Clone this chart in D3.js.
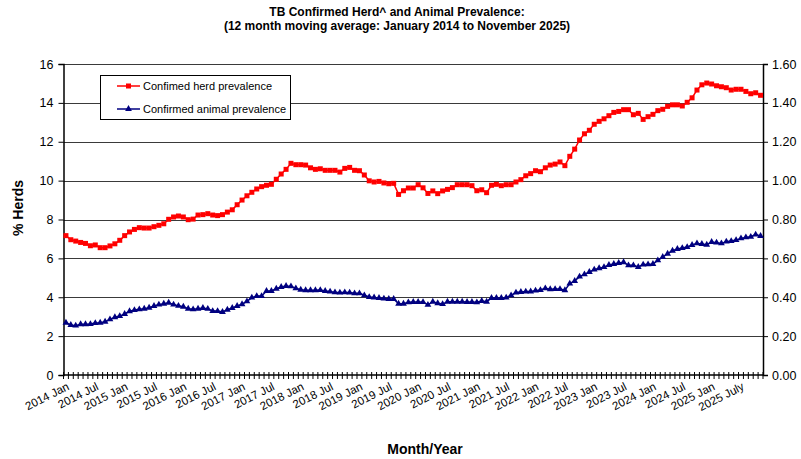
<!DOCTYPE html>
<html>
<head>
<meta charset="utf-8">
<script src="https://cdn.jsdelivr.net/npm/d3@7"></script>
<style>
  body { margin: 0; background: #fff; }
  svg { font-family: "Liberation Sans", Arial, sans-serif; }
</style>
</head>
<body>
<div id="chart"></div>
<script>
// first month of the series and number of months (Jan 2014 .. Nov 2025)
var startMonth = new Date(2014, 0, 1);
var monthCount = 143;

// confirmed herd prevalence (% herds, left axis)
var herdPrevalence = [
  7.17, 6.96, 6.89, 6.82, 6.77, 6.65, 6.69, 6.55, 6.55, 6.64, 6.75, 6.93,
  7.17, 7.36, 7.49, 7.58, 7.56, 7.56, 7.63, 7.70, 7.78, 8.01, 8.13, 8.18,
  8.13, 7.99, 8.02, 8.23, 8.25, 8.30, 8.23, 8.20, 8.25, 8.38, 8.50, 8.76,
  9.00, 9.22, 9.40, 9.57, 9.69, 9.76, 9.81, 10.07, 10.34, 10.58, 10.89, 10.82,
  10.82, 10.80, 10.66, 10.58, 10.61, 10.53, 10.53, 10.53, 10.44, 10.63, 10.68, 10.53,
  10.51, 10.29, 9.99, 9.93, 9.96, 9.88, 9.84, 9.86, 9.29, 9.48, 9.62, 9.62,
  9.79, 9.63, 9.34, 9.47, 9.33, 9.47, 9.55, 9.64, 9.79, 9.79, 9.79, 9.74,
  9.48, 9.53, 9.38, 9.76, 9.81, 9.74, 9.79, 9.79, 9.93, 10.05, 10.25, 10.36,
  10.51, 10.46, 10.66, 10.80, 10.85, 10.96, 10.77, 11.25, 11.62, 12.09, 12.41, 12.59,
  12.90, 13.05, 13.18, 13.34, 13.51, 13.56, 13.65, 13.65, 13.39, 13.46, 13.15, 13.29,
  13.41, 13.60, 13.67, 13.82, 13.90, 13.90, 13.84, 14.03, 14.26, 14.66, 14.93, 15.02,
  14.97, 14.88, 14.83, 14.78, 14.66, 14.70, 14.70, 14.59, 14.47, 14.52, 14.39
];

// confirmed animal prevalence (right axis)
var animalPrevalence = [
  0.269, 0.257, 0.254, 0.261, 0.261, 0.262, 0.267, 0.269, 0.274, 0.286, 0.297, 0.303,
  0.314, 0.328, 0.334, 0.338, 0.341, 0.346, 0.355, 0.362, 0.367, 0.372, 0.362, 0.356,
  0.351, 0.341, 0.338, 0.341, 0.345, 0.340, 0.329, 0.329, 0.324, 0.336, 0.345, 0.355,
  0.364, 0.379, 0.398, 0.406, 0.406, 0.432, 0.432, 0.444, 0.453, 0.458, 0.456, 0.446,
  0.439, 0.436, 0.436, 0.436, 0.437, 0.432, 0.429, 0.425, 0.424, 0.425, 0.424, 0.420,
  0.420, 0.410, 0.401, 0.399, 0.396, 0.393, 0.391, 0.391, 0.367, 0.367, 0.374, 0.376,
  0.376, 0.375, 0.361, 0.377, 0.369, 0.365, 0.377, 0.377, 0.377, 0.377, 0.376, 0.376,
  0.374, 0.381, 0.377, 0.396, 0.396, 0.396, 0.398, 0.410, 0.424, 0.427, 0.429, 0.430,
  0.434, 0.437, 0.446, 0.441, 0.442, 0.442, 0.436, 0.470, 0.484, 0.506, 0.518, 0.530,
  0.542, 0.549, 0.555, 0.566, 0.571, 0.576, 0.580, 0.564, 0.564, 0.556, 0.568, 0.569,
  0.571, 0.590, 0.607, 0.624, 0.639, 0.648, 0.653, 0.658, 0.669, 0.677, 0.674, 0.670,
  0.684, 0.681, 0.677, 0.686, 0.689, 0.694, 0.703, 0.708, 0.711, 0.722, 0.715
];

// x labels, every 6 months from the first month
var xTickLabels = [
  "2014 Jan", "2014 Jul", "2015 Jan", "2015 Jul", "2016 Jan", "2016 Jul",
  "2017 Jan", "2017 Jul", "2018 Jan", "2018 Jul", "2019 Jan", "2019 Jul",
  "2020 Jan", "2020 Jul", "2021 Jan", "2021 Jul", "2022 Jan", "2022 Jul",
  "2023 Jan", "2023 Jul", "2024 Jan", "2024 Jul", "2025 Jan", "2025 July"
];
var leftTicks = [0, 2, 4, 6, 8, 10, 12, 14, 16];
var rightTicks = [0, 0.2, 0.4, 0.6, 0.8, 1.0, 1.2, 1.4, 1.6];

var seriesNames = ["Confimed herd prevalence", "Confirmed animal prevalence"];

var width = 801, height = 459;
var margin = { top: 64, right: 38, bottom: 84, left: 63.5 };
var plotW = width - margin.left - margin.right;
var plotH = height - margin.top - margin.bottom;

var x = d3.scaleBand()
  .domain(d3.range(monthCount))
  .range([0, plotW]);

var yLeft = d3.scaleLinear().domain([0, 16]).range([plotH, 0]);
var yRight = d3.scaleLinear().domain([0, 1.6]).range([plotH, 0]);

var cx = i => x(i) + x.bandwidth() / 2;

var svg = d3.select("#chart").append("svg")
  .attr("width", width)
  .attr("height", height);

// title
var title = svg.append("text")
  .attr("text-anchor", "middle")
  .attr("font-weight", "bold")
  .attr("font-size", 12)
  .attr("fill", "#000");
title.append("tspan").attr("x", 397).attr("y", 16).text("TB Confirmed Herd^ and Animal Prevalence:");
title.append("tspan").attr("x", 397).attr("y", 30).text("(12 month moving average: January 2014 to November 2025)");

var chart = svg.append("g")
  .attr("transform", `translate(${margin.left},${margin.top})`);

// gridlines
chart.append("g")
  .selectAll("line")
  .data(leftTicks.filter(d => d > 0))
  .join("line")
  .attr("x1", 0)
  .attr("x2", plotW)
  .attr("y1", d => Math.round(yLeft(d)) + 0.5)
  .attr("y2", d => Math.round(yLeft(d)) + 0.5)
  .attr("stroke", "#3a3a3a")
  .attr("stroke-width", 1);

// left axis
var leftAxis = chart.append("g")
  .call(d3.axisLeft(yLeft).tickValues(leftTicks).tickFormat(d3.format("d")).tickSize(5).tickPadding(5));
leftAxis.select(".domain").attr("stroke", "#000").attr("stroke-width", 1.5);
leftAxis.selectAll("text").attr("font-size", 12.5).attr("font-family", "Liberation Sans, Arial, sans-serif");

// right axis
var rightAxis = chart.append("g")
  .attr("transform", `translate(${plotW},0)`)
  .call(d3.axisRight(yRight).tickValues(rightTicks).tickFormat(d3.format(".2f")).tickSize(5).tickPadding(4));
rightAxis.select(".domain").attr("stroke", "#000").attr("stroke-width", 1.5);
rightAxis.selectAll("text").attr("font-size", 12.5).attr("font-family", "Liberation Sans, Arial, sans-serif");

// bottom axis line and month ticks
var bottom = chart.append("g").attr("transform", `translate(0,${plotH})`);
bottom.append("line")
  .attr("x1", 0).attr("x2", plotW)
  .attr("y1", 0).attr("y2", 0)
  .attr("stroke", "#000").attr("stroke-width", 1.5);
bottom.selectAll("line.month")
  .data(d3.range(monthCount + 1))
  .join("line")
  .attr("class", "month")
  .attr("x1", i => i < monthCount ? x(i) : plotW)
  .attr("x2", i => i < monthCount ? x(i) : plotW)
  .attr("y1", -3).attr("y2", 4)
  .attr("stroke", "#000").attr("stroke-width", 1);

bottom.selectAll("text.xlabel")
  .data(xTickLabels)
  .join("text")
  .attr("class", "xlabel")
  .attr("text-anchor", "end")
  .attr("font-size", 11.5)
  .attr("transform", (d, k) => `translate(${cx(k * 6) + 4},${14}) rotate(-27)`)
  .text(d => d);

// axis titles
svg.append("text")
  .attr("text-anchor", "middle")
  .attr("font-weight", "bold")
  .attr("font-size", 14)
  .attr("transform", "translate(23,208) rotate(-90)")
  .text("% Herds");

svg.append("text")
  .attr("text-anchor", "middle")
  .attr("font-weight", "bold")
  .attr("font-size", 14)
  .attr("x", 425)
  .attr("y", 454)
  .text("Month/Year");

// herd line
var herdLine = d3.line()
  .x((d, i) => cx(i))
  .y(d => yLeft(d));

chart.append("path")
  .datum(herdPrevalence)
  .attr("d", herdLine)
  .attr("fill", "none")
  .attr("stroke", "#ff0000")
  .attr("stroke-width", 1.5);

chart.append("g")
  .selectAll("rect")
  .data(herdPrevalence)
  .join("rect")
  .attr("x", (d, i) => cx(i) - 2.5)
  .attr("y", d => yLeft(d) - 2.5)
  .attr("width", 5)
  .attr("height", 5)
  .attr("fill", "#ff0000");

// animal line
var animalLine = d3.line()
  .x((d, i) => cx(i))
  .y(d => yRight(d));

chart.append("path")
  .datum(animalPrevalence)
  .attr("d", animalLine)
  .attr("fill", "none")
  .attr("stroke", "#000080")
  .attr("stroke-width", 1.5);

var triangle = d3.symbol().type(d3.symbolTriangle).size(20);
chart.append("g")
  .selectAll("path")
  .data(animalPrevalence)
  .join("path")
  .attr("d", triangle)
  .attr("transform", (d, i) => `translate(${cx(i)},${yRight(d)})`)
  .attr("fill", "#000080");

// legend
var legend = svg.append("g").attr("transform", "translate(100,75)");
legend.append("rect")
  .attr("x", 0.5).attr("y", 0.5)
  .attr("width", 190).attr("height", 44)
  .attr("fill", "#fff")
  .attr("stroke", "#000")
  .attr("stroke-width", 1);

var legendColors = ["#ff0000", "#000080"];
var item = legend.selectAll("g.item")
  .data(seriesNames)
  .join("g")
  .attr("class", "item")
  .attr("transform", (d, i) => `translate(0,${11 + i * 23})`);

item.append("line")
  .attr("x1", 17).attr("x2", 40)
  .attr("y1", 0).attr("y2", 0)
  .attr("stroke", (d, i) => legendColors[i])
  .attr("stroke-width", 1.5);

item.filter((d, i) => i === 0).append("rect")
  .attr("x", 26).attr("y", -2.5).attr("width", 5).attr("height", 5)
  .attr("fill", legendColors[0]);

item.filter((d, i) => i === 1).append("path")
  .attr("d", triangle)
  .attr("transform", "translate(28.5,0)")
  .attr("fill", legendColors[1]);

item.append("text")
  .attr("x", 43)
  .attr("y", 4)
  .attr("font-size", 11)
  .text(d => d);
</script>
</body>
</html>
